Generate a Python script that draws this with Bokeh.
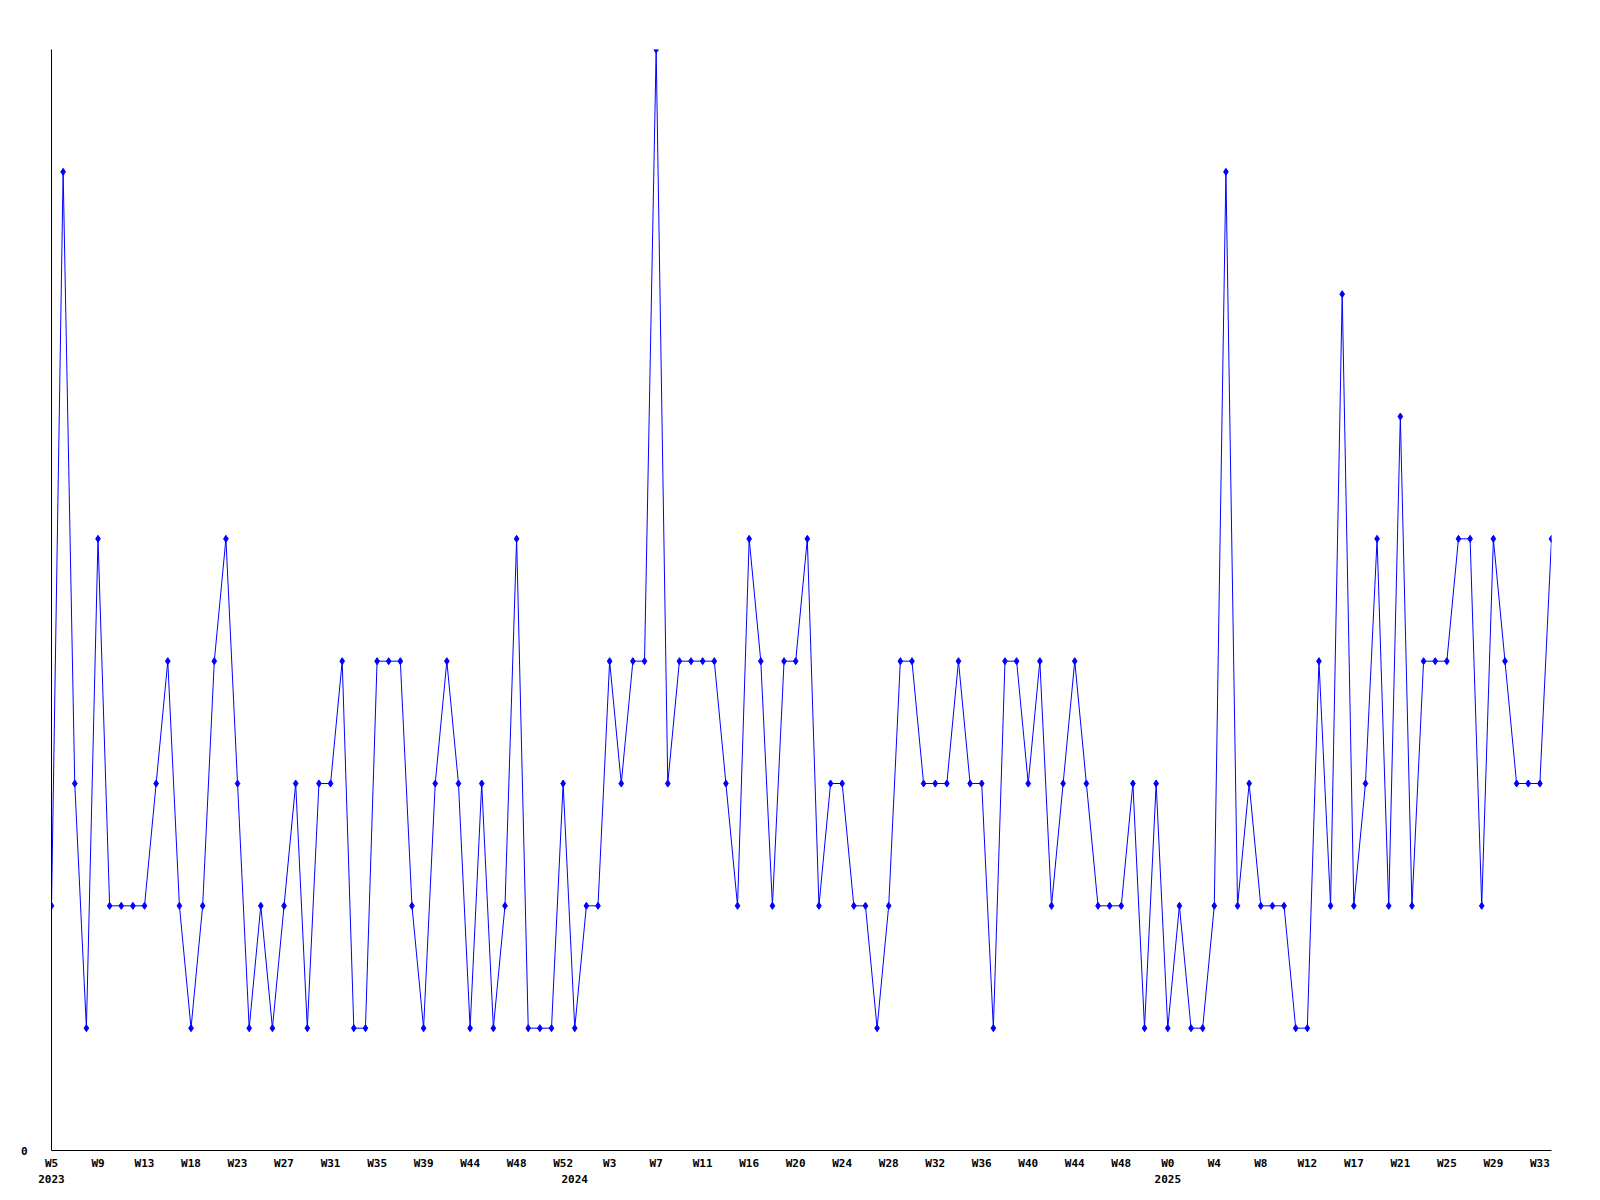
from bokeh.plotting import figure
from bokeh.models import Range1d, FixedTicker, LinearAxis, ColumnDataSource
from bokeh.embed import file_html
from bokeh.resources import INLINE

# weekly counts (index = week position on the axis)
values = [
    2, 8, 3, 1, 5, 2, 2, 2, 2, 3, 4, 2, 1, 2, 4, 5, 3, 1, 2, 1,
    2, 3, 1, 3, 3, 4, 1, 1, 4, 4, 4, 2, 1, 3, 4, 3, 1, 3, 1, 2,
    5, 1, 1, 1, 3, 1, 2, 2, 4, 3, 4, 4, 9, 3, 4, 4, 4, 4, 3, 2,
    5, 4, 2, 4, 4, 5, 2, 3, 3, 2, 2, 1, 2, 4, 4, 3, 3, 3, 4, 3,
    3, 1, 4, 4, 3, 4, 2, 3, 4, 3, 2, 2, 2, 3, 1, 3, 1, 2, 1, 1,
    2, 8, 2, 3, 2, 2, 2, 1, 1, 4, 2, 7, 2, 3, 5, 2, 6, 2, 4, 4,
    4, 5, 5, 2, 5, 4, 3, 3, 3, 5,
]
week_index = list(range(len(values)))

tick_positions = list(range(0, 129, 4))
tick_labels = ["W5", "W9", "W13", "W18", "W23", "W27", "W31", "W35", "W39",
               "W44", "W48", "W52", "W3", "W7", "W11", "W16", "W20", "W24",
               "W28", "W32", "W36", "W40", "W44", "W48", "W0", "W4", "W8",
               "W12", "W17", "W21", "W25", "W29", "W33"]
year_positions = [0, 45, 96]
year_labels = ["2023", "2024", "2025"]

FONT = "DejaVu Sans Mono"

p = figure(width=1584, height=1185, output_backend="svg", toolbar_location=None,
           x_range=Range1d(0, len(values) - 1), y_range=Range1d(0, 9),
           min_border_left=51, min_border_top=49, min_border_right=33,
           min_border_bottom=0, x_axis_location=None, y_axis_location=None)
p.outline_line_color = None
p.xgrid.visible = False
p.ygrid.visible = False
p.background_fill_color = "white"
p.border_fill_color = "white"

src = ColumnDataSource(dict(x=week_index, y=values))
p.line("x", "y", source=src, line_color="#0000ff", line_width=1)
p.scatter("x", "y", source=src, marker="diamond", size=7,
          fill_color="#0000ff", line_color="#0000ff")

def style_axis(ax):
    ax.major_tick_line_color = None
    ax.minor_tick_line_color = None
    ax.major_tick_out = 0
    ax.major_tick_in = 0
    ax.major_label_text_font = FONT
    ax.major_label_text_font_size = "11px"
    ax.major_label_text_font_style = "bold"
    ax.major_label_text_color = "black"

xa = LinearAxis(ticker=FixedTicker(ticks=tick_positions),
                major_label_overrides={t: l for t, l in zip(tick_positions, tick_labels)})
style_axis(xa)
xa.axis_line_color = "black"
xa.axis_line_width = 1
xa.major_label_standoff = 6
p.add_layout(xa, "below")

ya_year = LinearAxis(ticker=FixedTicker(ticks=year_positions),
                     major_label_overrides={t: l for t, l in zip(year_positions, year_labels)})
style_axis(ya_year)
ya_year.axis_line_color = None
ya_year.major_label_standoff = 2
p.add_layout(ya_year, "below")

ya = LinearAxis(ticker=FixedTicker(ticks=[0]))
style_axis(ya)
ya.axis_line_color = "black"
ya.major_label_standoff = 24
p.add_layout(ya, "left")

open("out.html", "w").write(file_html(p, INLINE))
